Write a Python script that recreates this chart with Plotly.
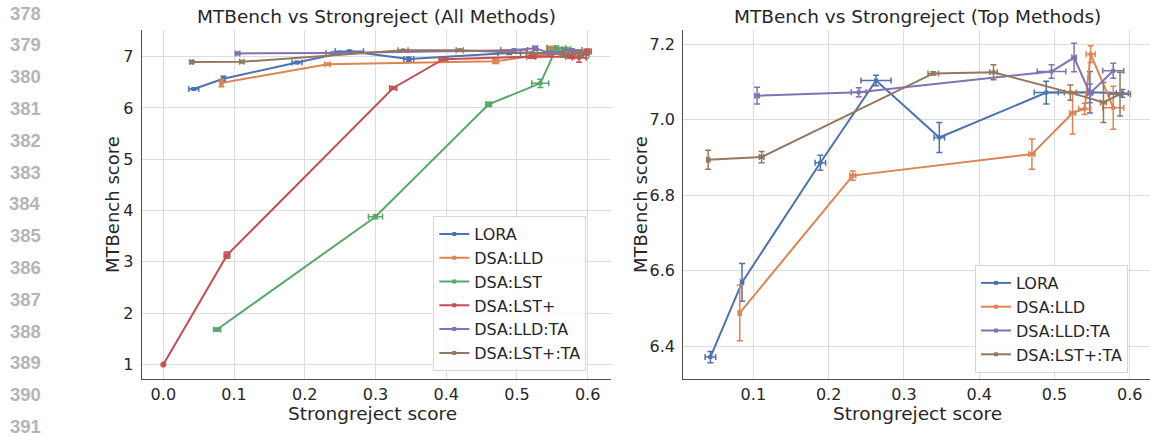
import plotly.graph_objects as go

# ---------------- data ----------------
lora_x = [0.043, 0.085, 0.189, 0.263, 0.347, 0.489, 0.547, 0.590]
lora_y = [6.371, 6.569, 6.886, 7.104, 6.953, 7.072, 7.073, 7.070]
lora_xerr = [0.007, 0.002, 0.007, 0.020, 0.007, 0.016, 0.004, 0.008]
lora_yerr = [0.015, 0.050, 0.020, 0.014, 0.040, 0.030, 0.055, 0.010]

lld_x = [0.082, 0.232, 0.470, 0.524, 0.540, 0.548, 0.578]
lld_y = [6.488, 6.852, 6.909, 7.018, 7.029, 7.174, 7.032]
lld_xerr = [0.002, 0.004, 0.004, 0.004, 0.008, 0.006, 0.014]
lld_yerr = [0.074, 0.012, 0.040, 0.056, 0.015, 0.022, 0.057]

lst_x = [0.076, 0.300, 0.460, 0.533, 0.556, 0.570, 0.598]
lst_y = [1.68, 3.88, 6.07, 6.48, 7.17, 7.15, 7.05]
lst_xerr = [0.005, 0.010, 0.004, 0.012, 0.013, 0.006, 0.004]
lst_yerr = [0.03, 0.04, 0.04, 0.08, 0.04, 0.03, 0.08]

lstp_x = [0.000, 0.090, 0.325, 0.396, 0.520, 0.575, 0.588, 0.600]
lstp_y = [1.00, 3.13, 6.39, 6.95, 7.00, 7.00, 6.98, 7.10]
lstp_xerr = [0.001, 0.004, 0.005, 0.006, 0.006, 0.006, 0.010, 0.005]
lstp_yerr = [0.02, 0.06, 0.03, 0.03, 0.03, 0.03, 0.09, 0.05]

lldta_x = [0.105, 0.240, 0.496, 0.526, 0.547, 0.578]
lldta_y = [7.064, 7.073, 7.128, 7.165, 7.070, 7.130]
lldta_xerr = [0.003, 0.010, 0.019, 0.003, 0.003, 0.014]
lldta_yerr = [0.022, 0.012, 0.018, 0.038, 0.025, 0.020]

lstta_x = [0.040, 0.111, 0.339, 0.419, 0.521, 0.565, 0.587]
lstta_y = [6.894, 6.901, 7.123, 7.126, 7.072, 7.046, 7.068]
lstta_xerr = [0.002, 0.003, 0.007, 0.005, 0.008, 0.004, 0.014]
lstta_yerr = [0.025, 0.015, 0.004, 0.020, 0.020, 0.053, 0.058]

left_x_ticks = [0.0, 0.1, 0.2, 0.3, 0.4, 0.5, 0.6]
left_y_ticks = [1, 2, 3, 4, 5, 6, 7]
right_x_ticks = [0.1, 0.2, 0.3, 0.4, 0.5, 0.6]
right_y_ticks = [6.4, 6.6, 6.8, 7.0, 7.2]
line_numbers = list(range(378, 392))

series = {
    "LORA": (lora_x, lora_y, lora_xerr, lora_yerr, "#4C72B0"),
    "DSA:LLD": (lld_x, lld_y, lld_xerr, lld_yerr, "#DD8452"),
    "DSA:LST": (lst_x, lst_y, lst_xerr, lst_yerr, "#55A868"),
    "DSA:LST+": (lstp_x, lstp_y, lstp_xerr, lstp_yerr, "#C44E52"),
    "DSA:LLD:TA": (lldta_x, lldta_y, lldta_xerr, lldta_yerr, "#8172B3"),
    "DSA:LST+:TA": (lstta_x, lstta_y, lstta_xerr, lstta_yerr, "#937860"),
}
left_names = ["LORA", "DSA:LLD", "DSA:LST", "DSA:LST+", "DSA:LLD:TA", "DSA:LST+:TA"]
right_names = ["LORA", "DSA:LLD", "DSA:LLD:TA", "DSA:LST+:TA"]

W, H = 1150, 437
FONT = "DejaVu Sans"
TXT = "#262626"

fig = go.Figure()


def add(name, xa, ya, legend):
    x, y, xe, ye, c = series[name]
    fig.add_trace(go.Scatter(
        x=x, y=y, mode="lines+markers", name=name,
        line=dict(color=c, width=2), marker=dict(color=c, size=4, symbol="square"),
        error_x=dict(type="data", array=xe, color=c, thickness=1.5, width=3),
        error_y=dict(type="data", array=ye, color=c, thickness=1.5, width=3),
        xaxis=xa, yaxis=ya, legend=legend,
    ))


for n in left_names:
    add(n, "x", "y", "legend")
for n in right_names:
    add(n, "x2", "y2", "legend2")

yb = 1 - 379.3 / H
yt = 1 - 30 / H
axis_common = dict(showgrid=True, gridcolor="#dddddd", gridwidth=1, zeroline=False,
                   showline=True, linecolor="#4d4d4d", linewidth=1.3, ticks="",
                   tickfont=dict(family=FONT, size=16, color=TXT), mirror=False)

legend_common = dict(xanchor="left", yanchor="top",
                     bgcolor="rgba(255,255,255,0.85)", bordercolor="#d6d6d6", borderwidth=1,
                     font=dict(family=FONT, size=16, color=TXT), tracegroupgap=0)

fig.update_layout(
    width=W, height=H, margin=dict(l=0, r=0, t=0, b=0),
    paper_bgcolor="white", plot_bgcolor="white",
    xaxis=dict(domain=[141.7 / W, 611 / W], range=[-0.0306, 0.633], tickvals=left_x_ticks,
               tickformat=".1f", anchor="y", **axis_common),
    yaxis=dict(domain=[yb, yt], range=[0.71, 7.52], tickvals=left_y_ticks, anchor="x",
               ticklabelstandoff=4, **axis_common),
    xaxis2=dict(domain=[683.3 / W, 1.0], range=[0.007, 0.6268], tickvals=right_x_ticks,
                tickformat=".1f", anchor="y2", **axis_common),
    yaxis2=dict(domain=[yb, yt], range=[6.312, 7.238], tickvals=right_y_ticks, tickformat=".1f",
                anchor="x2", ticklabelstandoff=4, **axis_common),
    legend=dict(x=433.3 / W, y=1 - 216 / H, **legend_common),
    legend2=dict(x=975 / W, y=1 - 265 / H, **legend_common),
    showlegend=True,
)

ann = []
ann.append(dict(text="MTBench vs Strongreject (All Methods)", x=377 / W, y=1 - 17 / H,
                font=dict(family=FONT, size=18.5, color=TXT)))
ann.append(dict(text="MTBench vs Strongreject (Top Methods)", x=917 / W, y=1 - 17 / H,
                font=dict(family=FONT, size=18.5, color=TXT)))
ann.append(dict(text="Strongreject score", x=372 / W, y=1 - 413 / H,
                font=dict(family=FONT, size=18.5, color=TXT)))
ann.append(dict(text="Strongreject score", x=917 / W, y=1 - 413 / H,
                font=dict(family=FONT, size=18.5, color=TXT)))
ann.append(dict(text="MTBench score", x=113 / W, y=1 - 205 / H, textangle=-90,
                font=dict(family=FONT, size=18, color=TXT)))
ann.append(dict(text="MTBench score", x=641 / W, y=1 - 205 / H, textangle=-90,
                font=dict(family=FONT, size=18, color=TXT)))
for i, n in enumerate(line_numbers):
    ann.append(dict(text="<b>%d</b>" % n, x=43 / W, y=1 - (13 + 31.8 * i) / H,
                    xanchor="right", font=dict(family="Liberation Sans", size=18.5, color="#b5b5b5")))
for a in ann:
    a.update(xref="paper", yref="paper", showarrow=False)
    a.setdefault("xanchor", "center")
    a.setdefault("yanchor", "middle")
fig.update_layout(annotations=ann)

fig.write_html("out.html", config={"displayModeBar": False},
               post_script="document.body.style.margin='0';document.body.style.padding='0';")
